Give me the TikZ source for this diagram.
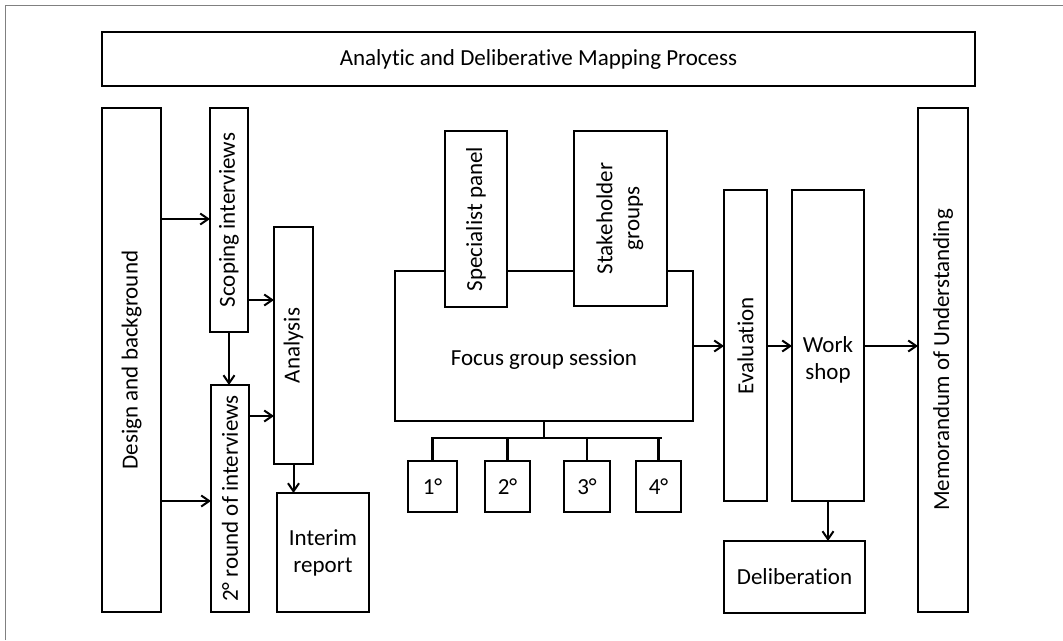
\documentclass[tikz,border=0pt]{standalone}
\usepackage{fontspec}
\setmainfont[Ligatures={NoCommon}]{Carlito}
\usetikzlibrary{arrows.meta}
\begin{document}
\begin{tikzpicture}[x=1pt,y=-1pt,
  box/.style={draw, line width=2.7pt, fill=white, inner sep=0pt, outer sep=0pt, align=center, font=\fontsize{23}{27}\selectfont},
  lbl/.style={inner sep=0pt, align=center, font=\fontsize{23}{27}\selectfont},
  arr/.style={line width=2pt, -{Straight Barb[length=8pt,width=11pt]}},
  ln/.style={line width=2.7pt}]
\useasboundingbox (0,0) rectangle (1063,640);
\draw[gray, line width=1pt] (5,640) -- (5,5) -- (1063,5);

\node[box, minimum width=873pt, minimum height=54pt] (title) at (538.5,59) {Analytic and Deliberative Mapping Process};

\node[box, minimum width=59pt, minimum height=504pt] (design) at (131.5,360) {\rotatebox{90}{Design and background}};
\node[box, minimum width=38pt, minimum height=224pt] (scoping) at (229,220) {\rotatebox{90}{Scoping interviews}};
\node[box, minimum width=38pt, minimum height=227pt] (round) at (230,498.5) {\rotatebox{90}{2° round of interviews}};
\node[box, minimum width=39pt, minimum height=237pt] (analysis) at (293.5,345.5) {\rotatebox{90}{Analysis}};
\node[box, minimum width=92pt, minimum height=119pt] (interim) at (323,552.5) {Interim\\report};

\node[box, minimum width=298pt, minimum height=150pt] (focus) at (544,346) {};
\node[lbl] (focustext) at (544,360) {Focus group session};
\node[box, minimum width=62pt, minimum height=176pt] (specialist) at (476,219) {\rotatebox{90}{Specialist panel}};
\node[box, minimum width=93pt, minimum height=175pt] (stake) at (620.5,218.5) {\rotatebox{90}{\begin{tabular}{@{}c@{}}Stakeholder\\groups\end{tabular}}};

\node[box, minimum width=49pt, minimum height=51pt] (s1) at (432.5,486.5) {1°};
\node[box, minimum width=45pt, minimum height=51pt] (s2) at (507.5,486.5) {2°};
\node[box, minimum width=46pt, minimum height=51pt] (s3) at (587,486.5) {3°};
\node[box, minimum width=45pt, minimum height=51pt] (s4) at (658.5,486.5) {4°};

\node[box, minimum width=43pt, minimum height=311pt] (eval) at (745.5,345.5) {\rotatebox{90}{Evaluation}};
\node[box, minimum width=72pt, minimum height=311pt] (work) at (828,345.5) {};
\node[lbl] (worktext) at (828,360) {Work\\shop};
\node[box, minimum width=141pt, minimum height=72pt] (delib) at (794.5,577) {Deliberation};
\node[box, minimum width=50pt, minimum height=504pt] (memo) at (943,360) {\rotatebox{90}{Memorandum of Understanding}};

% arrows
\draw[arr] (design.east |- 0,219) -- (scoping.west |- 0,219);
\draw[arr] (design.east |- 0,501) -- (round.west |- 0,501);
\draw[arr] (scoping.east |- 0,300) -- (analysis.west |- 0,300);
\draw[arr] (scoping.south) -- (scoping.south |- round.north);
\draw[arr] (round.east |- 0,416) -- (analysis.west |- 0,416);
\draw[arr] (analysis.south) -- (analysis.south |- interim.north);
\draw[arr] (focus.east |- 0,346) -- (eval.west |- 0,346);
\draw[arr] (eval.east |- 0,346) -- (work.west |- 0,346);
\draw[arr] (work.east |- 0,346) -- (memo.west |- 0,346);
\draw[arr] (work.south) -- (work.south |- delib.north);

% tree
\coordinate (bus) at (544,438);
\coordinate (busL) at (431,438);
\coordinate (busR) at (662,438);
\draw[ln] (focus.south) -- (bus);
\draw[ln] (busL) -- (busR);
\draw[ln] (s1.north |- bus) -- (s1.north);
\draw[ln] (s2.north |- bus) -- (s2.north);
\draw[ln] (s3.north |- bus) -- (s3.north);
\draw[ln] (s4.north |- bus) -- (s4.north);
\end{tikzpicture}
\end{document}
